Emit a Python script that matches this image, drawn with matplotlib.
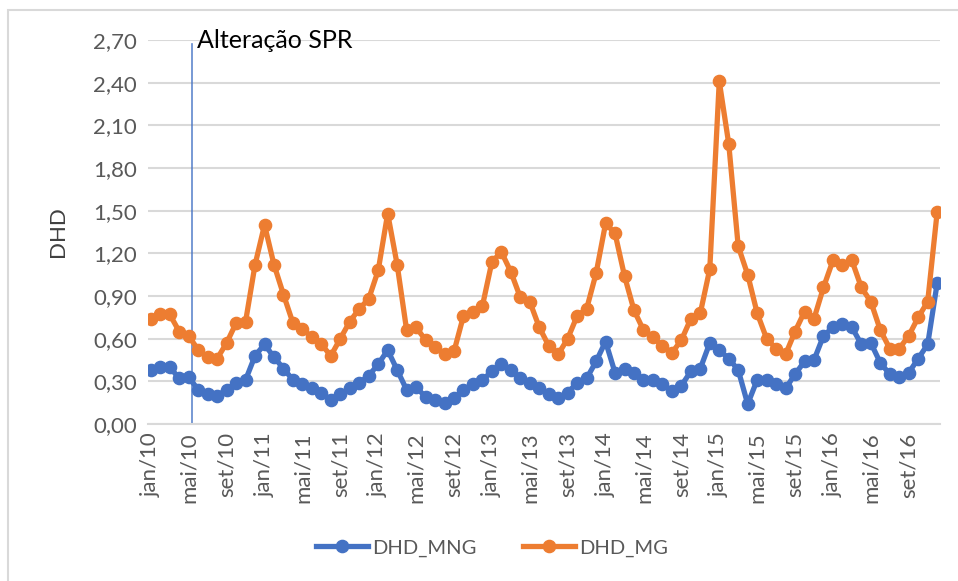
import matplotlib
matplotlib.use("Agg")
import matplotlib.pyplot as plt
from matplotlib.patches import Rectangle

# monthly series jan/10 .. dez/16
months = ["jan", "fev", "mar", "abr", "mai", "jun", "jul", "ago", "set", "out", "nov", "dez"]
years = ["10", "11", "12", "13", "14", "15", "16"]
labels = [m + "/" + y for y in years for m in months]

dhd_mng = [0.38, 0.40, 0.40, 0.32, 0.33, 0.24, 0.21, 0.20, 0.24, 0.29, 0.31, 0.48,
           0.56, 0.47, 0.39, 0.31, 0.28, 0.25, 0.22, 0.17, 0.21, 0.25, 0.29, 0.34,
           0.42, 0.52, 0.38, 0.24, 0.26, 0.19, 0.17, 0.15, 0.18, 0.24, 0.28, 0.31,
           0.37, 0.42, 0.38, 0.32, 0.29, 0.25, 0.21, 0.18, 0.22, 0.29, 0.32, 0.44,
           0.58, 0.36, 0.39, 0.36, 0.31, 0.31, 0.28, 0.23, 0.27, 0.37, 0.39, 0.57,
           0.52, 0.46, 0.38, 0.14, 0.31, 0.31, 0.28, 0.25, 0.35, 0.44, 0.45, 0.62,
           0.68, 0.70, 0.68, 0.56, 0.57, 0.43, 0.35, 0.33, 0.36, 0.46, 0.56, 0.99]

dhd_mg = [0.74, 0.77, 0.77, 0.65, 0.62, 0.52, 0.47, 0.46, 0.57, 0.71, 0.72, 1.12,
          1.40, 1.12, 0.91, 0.71, 0.67, 0.61, 0.56, 0.48, 0.60, 0.72, 0.81, 0.88,
          1.08, 1.48, 1.12, 0.66, 0.68, 0.59, 0.54, 0.49, 0.51, 0.76, 0.79, 0.83,
          1.14, 1.21, 1.07, 0.89, 0.86, 0.68, 0.55, 0.49, 0.60, 0.76, 0.81, 1.06,
          1.41, 1.34, 1.04, 0.80, 0.66, 0.61, 0.55, 0.50, 0.59, 0.74, 0.78, 1.09,
          2.41, 1.97, 1.25, 1.05, 0.78, 0.60, 0.53, 0.49, 0.65, 0.79, 0.74, 0.96,
          1.15, 1.12, 1.15, 0.96, 0.86, 0.66, 0.53, 0.53, 0.62, 0.75, 0.86, 1.49]

yticks = [0.0, 0.3, 0.6, 0.9, 1.2, 1.5, 1.8, 2.1, 2.4, 2.7]
spr_change = 4.33  # position of the "Alteração SPR" marker (between mai/10 and jun/10)

plt.rcParams['font.family'] = ['Lato', 'DejaVu Sans']

fig = plt.figure(figsize=(9.58, 5.81), dpi=100)
ax = fig.add_axes([148 / 958, 1 - 424 / 581, (940 - 148) / 958, (424 - 40) / 581])

# outer chart border (only top and left visible)
fig.patches.append(Rectangle((8 / 958, -0.1), 1.2, 1 - 10 / 581 + 0.1,
                             transform=fig.transFigure, fill=False,
                             edgecolor="#d9d9d9", linewidth=1.5))

x = list(range(len(labels)))
ax.plot(x, dhd_mng, color="#4472C4", lw=3.8, marker="o", ms=8.8, label="DHD_MNG", zorder=3)
ax.plot(x, dhd_mg, color="#ED7D31", lw=3.8, marker="o", ms=8.8, label="DHD_MG", zorder=3)

ax.plot([spr_change, spr_change], [0, 2.67], color="#4472C4", lw=1.2, alpha=0.85, zorder=2)
ax.text(spr_change + 0.55, 2.70, "Alteração SPR", fontsize=18, color="black",
        va="center", ha="left")

ax.set_xlim(-0.3, 83.3)
ax.set_ylim(0, 2.7)
ax.set_yticks(yticks)
ax.set_yticklabels([("%.2f" % v).replace(".", ",") for v in yticks])
ax.set_xticks(x[::4])
ax.set_xticklabels(labels[::4], rotation=90)
ax.tick_params(axis="both", length=0, labelsize=16, labelcolor="#595959")
ax.tick_params(axis="y", pad=8)
ax.tick_params(axis="x", pad=6)
ax.grid(axis="y", color="#d9d9d9", lw=1.5)
ax.set_axisbelow(True)
for s in ["top", "right", "left"]:
    ax.spines[s].set_visible(False)
ax.spines["bottom"].set_color("#d9d9d9")
ax.spines["bottom"].set_linewidth(1.5)

ax.set_ylabel("DHD", fontsize=16, color="#404040", labelpad=18)

fig.legend(loc="center", bbox_to_anchor=(492 / 958, 1 - 548 / 581), ncol=2,
           frameon=False, fontsize=14.5, handlelength=2.6, handletextpad=0.2,
           columnspacing=2.3, labelcolor="#595959")

fig.savefig("out.png", dpi=100)
